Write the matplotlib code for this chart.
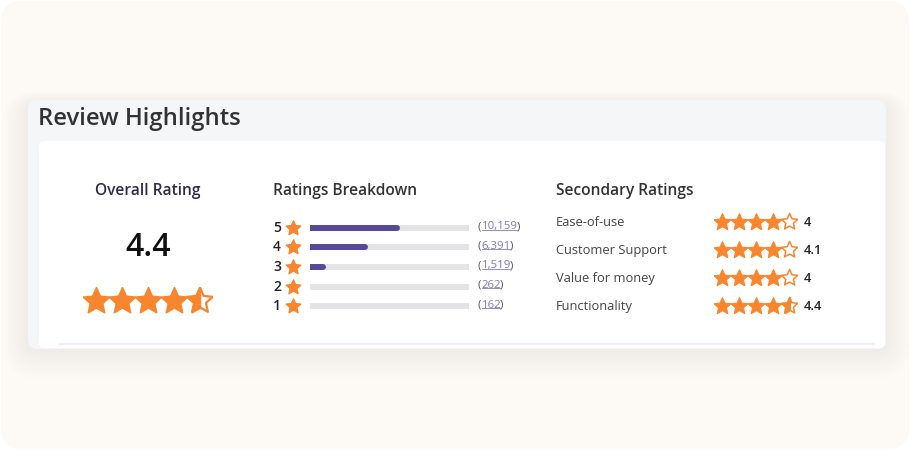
import matplotlib

matplotlib.use("Agg")
import matplotlib.pyplot as plt
import numpy as np
from matplotlib.lines import Line2D
from matplotlib.patches import FancyBboxPatch
from matplotlib.path import Path
from matplotlib.transforms import IdentityTransform, blended_transform_factory

W, H = 910, 450

TITLE = "Review Highlights"
OVERALL_RATING = 4.4
BREAKDOWN_STARS = [5, 4, 3, 2, 1]
BREAKDOWN_COUNTS = [10159, 6391, 1519, 262, 162]
SECONDARY_LABELS = ["Ease-of-use", "Customer Support", "Value for money", "Functionality"]
SECONDARY_VALUES = [4.0, 4.1, 4.0, 4.4]
SECONDARY_TEXT = ["4", "4.1", "4", "4.4"]

ORANGE = "#F7862E"
PURPLE = "#58489A"
TRACK = "#E4E4E6"
LINK = "#8279BE"
NAVY = "#2E2B4D"
FONT = "Open Sans"

plt.rcParams["font.family"] = [FONT, "DejaVu Sans"]


def star_path(half=False, inner=0.47):
    angles = np.pi / 2 + np.arange(10) * np.pi / 5
    radii = np.where(np.arange(10) % 2 == 0, 1.0, inner)
    verts = np.column_stack([radii * np.cos(angles), radii * np.sin(angles)])
    if half:
        verts = verts[:6]
    verts = np.vstack([verts, verts[:1]])
    codes = [Path.MOVETO] + [Path.LINETO] * (len(verts) - 2) + [Path.CLOSEPOLY]
    return Path(verts, codes)


STAR = star_path()
HALF_STAR = star_path(half=True)


def px_axes(fig, x0, y0, x1, y1):
    return fig.add_axes([x0 / W, 1 - y1 / H, (x1 - x0) / W, (y1 - y0) / H])


def draw_stars(ax, rating, size, lw):
    shown = round(rating * 2) / 2
    xs = np.arange(1, 6)
    full = xs[xs <= shown]
    half = xs[(xs > shown) & (xs - 0.5 <= shown)]
    empty = xs[xs - 0.5 > shown]
    ax.scatter(full, np.zeros(len(full)), marker=STAR, s=size, color=ORANGE,
               edgecolors=ORANGE, linewidths=lw * 0.7)
    ax.scatter(half, np.zeros(len(half)), marker=HALF_STAR, s=size, color=ORANGE,
               edgecolors=ORANGE, linewidths=lw * 0.7)
    outline = np.concatenate([half, empty])
    ax.scatter(outline, np.zeros(len(outline)), marker=STAR, s=size * 0.93,
               facecolors="none", edgecolors=ORANGE, linewidths=lw)
    ax.set_xlim(0.5, 5.5)
    ax.set_ylim(-1, 1)
    ax.axis("off")


fig = plt.figure(figsize=(W / 100, H / 100), dpi=100, facecolor="white")
ax0 = fig.add_axes([0, 0, 1, 1])
ax0.set_xlim(0, W)
ax0.set_ylim(H, 0)
ax0.axis("off")

# page background
ax0.add_patch(FancyBboxPatch((1, 1), W - 2, H - 2, boxstyle="round,pad=0,rounding_size=22",
                             fc="#FDF9F5", ec="none"))

# very soft shadow under the panel
for i in range(14):
    grow = i * 2.0
    ax0.add_patch(FancyBboxPatch((28 - grow, 104 - grow * 0.5), 858 + 2 * grow, 246 + grow * 1.6,
                                 boxstyle=f"round,pad=0,rounding_size={10 + grow}",
                                 fc="#a09078", ec="none", alpha=0.004))

# header panel and white card
ax0.add_patch(FancyBboxPatch((28, 100), 858, 249, boxstyle="round,pad=0,rounding_size=9",
                             fc="#F5F6F7", ec="none"))
ax0.add_patch(FancyBboxPatch((39, 141), 846, 207, boxstyle="round,pad=0,rounding_size=5",
                             fc="white", ec="none"))
ax0.plot([60, 874], [344, 344], color="#F0EFF7", lw=1.6, solid_capstyle="round")

ax0.text(38, 119, TITLE, fontsize=17.2, color="#333333", fontweight="semibold",
         va="center", ha="left")

# overall rating
ax0.text(148, 191, "Overall Rating", fontsize=11.2, color=NAVY, fontweight="semibold",
         va="center", ha="center")
ax0.text(148, 247, f"{OVERALL_RATING:.1f}", fontsize=23, color="#111111", fontweight="semibold",
         va="center", ha="center")
ax_big = px_axes(fig, 83, 287, 213, 315)
draw_stars(ax_big, OVERALL_RATING, 400, 1.6)

# ratings breakdown
ax0.text(273, 191, "Ratings Breakdown", fontsize=11.2, color="#333333", fontweight="semibold",
         va="center", ha="left")
ax_b = px_axes(fig, 310, 218, 469, 316)
ax_b.set_xlim(0, 1)
ax_b.set_ylim(0.5, 5.5)
ax_b.axis("off")
counts = np.array(BREAKDOWN_COUNTS, dtype=float)
shares = counts / counts.sum()
bar_px = 6
lw_pt = bar_px * 72 / 100
ax_b.hlines(BREAKDOWN_STARS, 0, 1, colors=TRACK, lw=lw_pt, capstyle="round")
for star, share in zip(BREAKDOWN_STARS, shares):
    width_px = share * 159
    cap = "round" if width_px > bar_px else "butt"
    x0 = 0 if cap == "round" else -3 / 159
    ax_b.hlines(star, x0, share + x0, colors=PURPLE, lw=lw_pt, capstyle=cap)

tr = blended_transform_factory(ax0.transData, ax_b.transData)
ax_b.scatter([293] * len(BREAKDOWN_STARS), BREAKDOWN_STARS, marker=STAR, s=125, color=ORANGE,
             edgecolors=ORANGE, linewidths=0.9, transform=tr, clip_on=False)
numbers = []
for star, count in zip(BREAKDOWN_STARS, BREAKDOWN_COUNTS):
    ax_b.text(277, star, str(star), transform=tr, fontsize=10, color="#222222",
              fontweight="semibold", va="center", ha="center")
    t1 = ax_b.text(478, star + 0.06, "(", transform=tr, fontsize=8.2, color="#555555",
                   va="center", ha="left")
    t2 = ax_b.annotate(f"{count:,}", xy=(1, 0), xycoords=t1, xytext=(0.5, 0),
                       textcoords="offset pixels", fontsize=8.2, color=LINK,
                       va="bottom", ha="left")
    ax_b.annotate(")", xy=(1, 0), xycoords=t2, xytext=(-1.5, 0), textcoords="offset pixels",
                  fontsize=8.2, color="#555555", va="bottom", ha="left")
    numbers.append(t2)

# secondary ratings
ax0.text(556, 191, "Secondary Ratings", fontsize=11.2, color="#333333", fontweight="semibold",
         va="center", ha="left")
rows_y = [222, 250, 278, 306]
for label, value, txt, y in zip(SECONDARY_LABELS, SECONDARY_VALUES, SECONDARY_TEXT, rows_y):
    ax0.text(556, y + 0.5, label, fontsize=9.3, color="#444444", va="center", ha="left")
    ax_s = px_axes(fig, 714, y - 10, 798, y + 10)
    draw_stars(ax_s, value, 165, 1.1)
    ax0.text(804, y + 1, txt, fontsize=9.3, color="#222222", fontweight="semibold",
             va="center", ha="left")

# underline link-coloured counts
fig.canvas.draw()
renderer = fig.canvas.get_renderer()
for t in numbers:
    bb = t.get_window_extent(renderer)
    fig.add_artist(Line2D([bb.x0, bb.x1 - 1], [bb.y0 + 2.5, bb.y0 + 2.5], color=LINK, lw=0.6,
                          transform=IdentityTransform()))

fig.savefig("out.png", dpi=100, facecolor="white")
